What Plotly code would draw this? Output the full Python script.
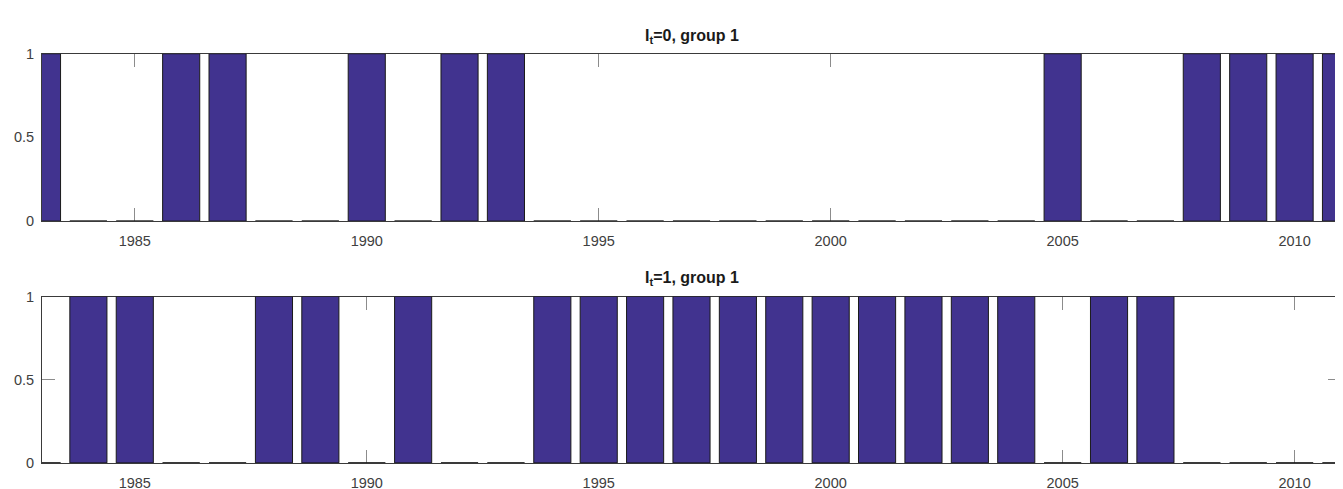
import plotly.graph_objects as go
from plotly.subplots import make_subplots

years = list(range(1983, 2012))
group1_it0 = [1, 0, 0, 1, 1, 0, 0, 1, 0, 1, 1,
              0, 0, 0, 0, 0, 0, 0, 0, 0, 0, 0,
              1, 0, 0, 1, 1, 1, 1]
group1_it1 = [0, 1, 1, 0, 0, 1, 1, 0, 1, 0, 0,
              1, 1, 1, 1, 1, 1, 1, 1, 1, 1, 1,
              0, 1, 1, 0, 0, 0, 0]
titles = ["I<sub>t</sub>=0, group 1", "I<sub>t</sub>=1, group 1"]
x_ticks = [1985, 1990, 1995, 2000, 2005, 2010]
y_ticks = [0, 0.5, 1]
y_ticktext = ["0", "0.5", "1"]

W, H = 1343, 489
BAR = "#41338F"
AX = "#3a3a3a"
TXT = "#404040"
FONT = "Liberation Sans, Arial, Helvetica, sans-serif"

fig = make_subplots(rows=2, cols=1)
for i, vals in enumerate([group1_it0, group1_it1], start=1):
    fig.add_trace(go.Bar(x=years, y=vals,
                         marker=dict(color=BAR, line=dict(color="#1a1a1a", width=1)),
                         showlegend=False, hoverinfo="x+y"), row=i, col=1)

xdom = [34 / W, 1333 / W]
ydoms = [[1 - 212 / H, 1 - 39 / H], [1 - 462 / H, 1 - 290 / H]]
title_y = [1 - 21 / H, 1 - 271 / H]

axis_common = dict(showline=True, linecolor=AX, linewidth=1, mirror="ticks",
                   ticks="inside", ticklen=13, tickcolor="#8c8c8c", tickwidth=1,
                   showgrid=False, zeroline=False, layer="below traces",
                   tickfont=dict(family=FONT, size=14.5, color=TXT))

for i in range(2):
    xa = "xaxis" if i == 0 else "xaxis2"
    ya = "yaxis" if i == 0 else "yaxis2"
    fig.layout[xa].update(domain=xdom, range=[1983, 2011], tickvals=x_ticks,
                          ticklabelstandoff=7, **axis_common)
    fig.layout[ya].update(domain=ydoms[i], range=[0, 1], tickvals=y_ticks,
                          ticktext=y_ticktext, ticklabelstandoff=4, **axis_common)
    fig.add_annotation(text="<b>" + titles[i] + "</b>", xref="paper", yref="paper",
                       x=(xdom[0] + xdom[1]) / 2, y=title_y[i],
                       xanchor="center", yanchor="middle", showarrow=False,
                       font=dict(family=FONT, size=16, color="#1a1a1a"))

fig.update_layout(width=W, height=H, margin=dict(l=0, r=0, t=0, b=0),
                  paper_bgcolor="white", plot_bgcolor="white", bargap=0.2)

fig.write_html("out.html")
